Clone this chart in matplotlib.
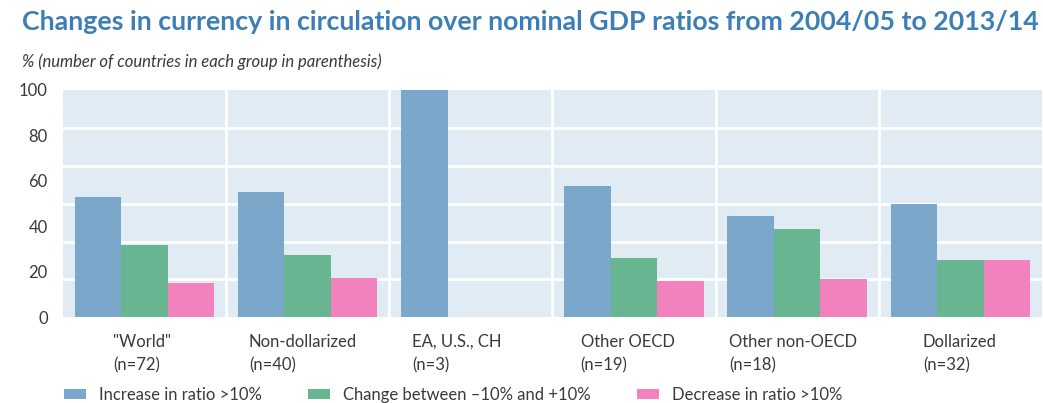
import numpy as np
import matplotlib.pyplot as plt
from matplotlib.patches import Patch
import matplotlib.transforms as mtransforms

groups = ['"World"', "Non-dollarized", "EA, U.S., CH", "Other OECD", "Other non-OECD", "Dollarized"]
counts = ["(n=72)", "(n=40)", "(n=3)", "(n=19)", "(n=18)", "(n=32)"]
increase = [52.8, 55.0, 100.0, 57.9, 44.4, 50.0]
unchanged = [31.9, 27.5, 0.0, 26.3, 38.9, 25.0]
decrease = [15.3, 17.5, 0.0, 15.8, 16.7, 25.0]
series_names = ["Increase in ratio >10%", "Change between \u201310% and +10%", "Decrease in ratio >10%"]
yticks = [0, 20, 40, 60, 80, 100]

# label left edges (in group units), placed by hand like the original
label_x = [-0.192, 0.640, 1.638, 2.672, 3.581, 4.770]

colors = ["#7BA7CB", "#68B591", "#F282BE"]
text_col = "#3a3a3a"
plt.rcParams["font.family"] = ["Lato", "DejaVu Sans"]

fig = plt.figure(figsize=(10.43, 4.03), dpi=100)
ax = fig.add_axes([0.0604, 0.2127, 0.9386, 0.564])
ax.set_facecolor("#E1EBF4")

x = np.arange(len(groups))
w = 0.285
for k, vals in enumerate([increase, unchanged, decrease]):
    ax.bar(x + (k - 1) * w, vals, width=w, color=colors[k], zorder=3)

ax.set_xlim(-0.5, len(groups) - 0.5)
ax.set_ylim(0, 100)
ax.set_yticks(yticks)
ax.set_yticklabels([str(t) for t in yticks], fontsize=12, color=text_col)
ax.tick_params(axis="y", length=0, pad=11)
ax.set_xticks([])

# white grid
for gx in np.arange(0.5, len(groups) - 0.5, 1):
    ax.axvline(gx, color="white", lw=2, zorder=1)
for gy in np.arange(1, 6) * 100 / 6:
    ax.axhline(gy, color="white", lw=2, zorder=1)
for s in ax.spines.values():
    s.set_visible(False)

trans = mtransforms.blended_transform_factory(ax.transData, fig.transFigure)
for lx, g, c in zip(label_x, groups, counts):
    ax.text(lx, 1 - 342 / 403, g, transform=trans, ha="left", va="center", fontsize=12, color=text_col)
    ax.text(lx, 1 - 365 / 403, c, transform=trans, ha="left", va="center", fontsize=12, color=text_col)

fig.text(22 / 1043, 1 - 22 / 403, "Changes in currency in circulation over nominal GDP ratios from 2004/05 to 2013/14",
         fontsize=19.3, fontweight="bold", color="#3C7EB5", ha="left", va="center")
fig.text(22 / 1043, 1 - 62 / 403, "% (number of countries in each group in parenthesis)",
         fontsize=12, style="italic", color=text_col, ha="left", va="center")

handles = [Patch(facecolor=c, edgecolor="none") for c in colors]
fig.legend(handles, series_names, loc="center left", bbox_to_anchor=(64 / 1043, 1 - 395 / 403),
           ncol=3, frameon=False, handlelength=1.32, handleheight=0.6, borderpad=0, borderaxespad=0,
           handletextpad=0.8, columnspacing=2.75, labelcolor=text_col, prop={"size": 12})

fig.savefig("out.png", dpi=100)
